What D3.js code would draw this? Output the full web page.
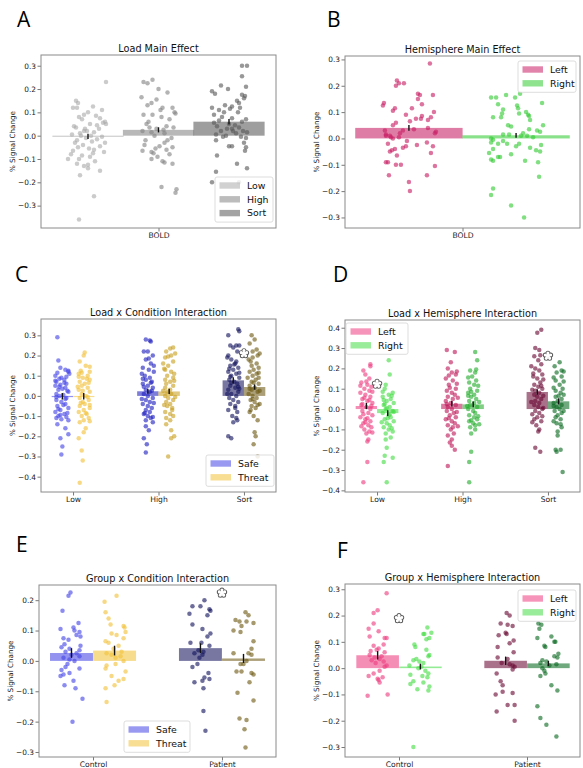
<!DOCTYPE html>
<html><head><meta charset="utf-8">
<script src="https://cdn.jsdelivr.net/npm/d3@7"></script>
<style>body{margin:0;background:#fff}</style>
</head><body>
<svg id="c" width="583" height="768"></svg>
<script>
// ---------------- DATA ----------------
// Panel A: Load main effect (one category, 3 hues)
const catsA = ["BOLD"], huesA = ["Low","High","Sort"];
const meanA = [[-0.003, 0.025, 0.060]];
const semA  = [[0.011, 0.011, 0.012]];
const ptsA_Low = [[1.8,.23],[-1.2,.15],[-1,.14],[-1.5,.12],[-1.1,.12],[.5,.125],[1.4,.11],[0,.1],[-.4,.09],[.8,.085],[-.9,.08],[1.2,.075],[-.6,.07],[1.7,.06],[1.5,.055],[.2,.05],[1.8,.05],[-1.4,.04],[-1.2,.035],[1.1,.03],[-.4,.02],[-.1,.02],[.6,.015],[-.8,.01],[-1.6,.005],[.3,0],[-.7,0],[1.4,-.005],[-.2,-.01],[.9,-.015],[-1.1,-.02],[.4,-.025],[1.7,-.03],[-.5,-.04],[1.2,-.045],[-1,-.05],[.1,-.055],[.6,-.06],[-1.5,-.065],[1.6,-.07],[-1.7,-.08],[-.6,-.085],[.2,-.09],[-2,-.1],[-.9,-.1],[.7,-.11],[-1.1,-.12],[0,-.125],[-.4,-.13],[0,-.14],[1.2,-.15],[-.8,-.17],[.6,-.26],[-.9,-.36],[-.3,.03],[.9,.045],[-1.3,-.03],[.5,-.075]];
const ptsA_High = [[-.6,.24],[-1.5,.23],[-1.1,.225],[0,.2],[.9,.185],[-1.7,.165],[-.2,.155],[-.7,.14],[-1.1,.13],[.4,.12],[1.4,.12],[1.6,.1],[-.6,.09],[.3,.08],[1.1,.07],[-1.2,.05],[.8,.04],[-.2,.03],[-1.6,.02],[-.7,.015],[.6,.01],[-.4,0],[1.3,-.01],[.9,-.02],[-1.4,-.04],[.1,-.045],[1.4,-.05],[.8,-.06],[-1.6,-.065],[-.7,-.07],[-.5,-.075],[1.1,-.08],[-.1,-.09],[-.7,-.1],[.4,-.11],[.6,-.115],[1.4,-.12],[.3,-.22],[1.8,-.23],[1.7,-.245],[-1,.06],[.2,.11],[1.7,.095],[-1.3,-.02],[.5,.025],[-.3,-.055],[1.5,.035],[-.9,.035],[.6,-.03],[-1.5,.09]];
const ptsA_Sort = [[1.3,.3],[1.8,.3],[1.3,.255],[-.8,.215],[1.7,.21],[-.1,.2],[-1.7,.19],[-1.4,.18],[1.3,.175],[1.6,.17],[1.5,.16],[.8,.15],[1,.14],[-.4,.13],[.3,.125],[-1.7,.12],[.1,.115],[-1,.11],[.9,.1],[-1.5,.09],[-.7,.08],[.3,.075],[1.7,.07],[1.3,.06],[-1.5,.055],[0,.05],[-1.2,.04],[1,.035],[.3,.03],[-.8,.02],[1.8,.015],[.7,.01],[-1.3,.005],[-.3,0],[1.2,-.005],[1.7,-.01],[-1.3,-.02],[1.5,-.03],[0,-.045],[.3,-.045],[1.7,-.05],[1.6,-.065],[-1.2,-.085],[.8,-.12],[1.8,-.14],[-1.3,-.155],[-1.7,-.2],[1,-.2],[-.5,.1],[.6,.045],[-1,.065],[.4,.02],[-.6,-.005],[1.1,.12],[-.2,.03],[1.4,.02]];

// Panel B: Hemisphere main effect
const catsB = ["BOLD"], huesB = ["Left","Right"];
const meanB = [[0.040, 0.012]];
const semB  = [[0.011, 0.009]];
const ptsB_Left = [[2.1,.285],[-1.2,.22],[-.5,.21],[-1,.21],[-1.3,.2],[.9,.17],[1.1,.165],[2.4,.165],[.9,.15],[-2.5,.135],[1.3,.13],[-2.6,.125],[-1.4,.115],[.3,.115],[-1.6,.105],[2.5,.1],[-.3,.09],[1.3,.085],[2.2,.08],[.7,.075],[1.2,.075],[1.9,.07],[.1,.065],[-1.3,.06],[-1.6,.05],[1.9,.04],[.5,.035],[-2.4,.03],[-.6,.03],[2.7,.025],[2.6,.02],[-.9,.02],[-2.3,.015],[-1.9,.01],[-2.3,.01],[-1,.005],[-1.8,.005],[-1.6,0],[-.2,-.01],[1.8,-.015],[-2.1,-.02],[.8,-.025],[-.3,-.03],[2.4,-.03],[-.6,-.035],[-1.4,-.04],[-1.7,-.045],[-1.9,-.05],[2.2,-.055],[-1.2,-.065],[-2.3,-.09],[-2.1,-.09],[-1.3,-.1],[-.8,-.1],[2.6,-.105],[-2,-.14],[1.8,-.14],[0,-.165],[.1,-.2]];
const ptsB_Right = [[.4,.17],[-1,.165],[-2.5,.155],[-2,.155],[-.1,.155],[2.6,.135],[-1.8,.13],[.1,.125],[.2,.115],[-1.3,.11],[1,.1],[-1.4,.095],[.3,.095],[1.2,.09],[1.3,.085],[-1.5,.08],[-2.3,.08],[1.4,.07],[2.7,.05],[-.8,.05],[-.5,.045],[1.3,.035],[2.1,.03],[2.4,.025],[.7,.02],[-.7,.015],[-1.3,.015],[.5,.01],[1.1,.01],[1.7,.005],[-2.5,0],[-2.3,-.005],[-1.3,-.01],[-2.5,-.015],[-1.8,-.02],[-.9,-.02],[.3,-.02],[2.5,-.025],[0,-.03],[1.4,-.035],[-2.3,-.04],[2,-.045],[2.4,-.05],[-2.7,-.055],[-.5,-.06],[-1.8,-.07],[-1.6,-.07],[-2.5,-.08],[-2.3,-.085],[.9,-.085],[2.2,-.09],[2.3,-.145],[-2.3,-.19],[-2.5,-.215],[-.5,-.255],[.8,-.3]];

// Panel C: Load x Condition
const catsC = ["Low","High","Sort"], huesC = ["Safe","Threat"];
const meanC = [[-0.002,-0.002],[0.023,0.022],[0.077,0.044]];
const semC  = [[0.016,0.016],[0.012,0.013],[0.016,0.013]];
const ptsC_LowSafe = [[-.5,.29],[-.4,.175],[-.2,.14],[.3,.13],[.6,.125],[-.7,.1],[.4,.095],[-.1,.09],[-.3,.085],[.2,.08],[-.6,.07],[.4,.06],[-.2,.055],[-.7,.05],[.3,.04],[-.4,.03],[.6,.02],[-.6,.01],[.1,.005],[-.3,0],[.4,-.01],[-.6,-.02],[-.1,-.03],[.3,-.04],[-.5,-.05],[.6,-.06],[-.2,-.07],[-.7,-.08],[.2,-.09],[-.4,-.1],[.4,-.105],[-.6,-.11],[-.1,-.115],[.6,-.12],[-.5,-.14],[.3,-.16],[.6,-.19],[-.2,-.21],[0,-.25],[-.1,-.29],[.6,.12],[-.5,.115],[.2,.065],[-.3,.045],[.5,.025],[-.6,-.005],[.1,-.045],[-.4,-.065],[.5,-.085],[-.2,-.095],[.7,.11],[0,.035],[-.7,.075],[.3,-.015]];
const ptsC_LowThreat = [[.1,.215],[0,.2],[-.4,.17],[.2,.15],[.6,.145],[.6,.12],[-.5,.11],[.4,.1],[-.1,.09],[.6,.08],[-.4,.07],[.1,.06],[-.2,.05],[.4,.04],[-.5,.03],[.6,.02],[-.2,.01],[.2,0],[-.4,-.01],[.5,-.02],[-.1,-.03],[.1,-.04],[-.4,-.05],[.6,-.06],[0,-.07],[-.5,-.08],[.3,-.09],[-.2,-.1],[.5,-.11],[0,-.12],[-.4,-.13],[.2,-.16],[0,-.18],[-.5,-.21],[-.2,-.27],[-.1,-.32],[-.4,-.43],[-.3,.125],[.3,.085],[-.6,.045],[.5,.065],[-.1,.025],[.4,-.005],[-.3,-.035],[.6,-.045],[-.5,.095],[.2,-.085],[-.2,.115],[.6,-.125]];
const ptsC_HighSafe = [[-.2,.28],[.2,.275],[.3,.27],[-.4,.22],[0,.22],[.5,.2],[-.2,.18],[.3,.16],[-.5,.14],[.1,.13],[.6,.12],[-.3,.1],[.2,.09],[-.2,.08],[.4,.07],[-.5,.06],[0,.05],[.5,.04],[-.2,.03],[.2,.02],[-.4,.01],[0,0],[.5,-.01],[-.2,-.02],[.2,-.03],[-.5,-.04],[0,-.05],[.4,-.06],[-.2,-.07],[.2,-.08],[-.4,-.09],[0,-.1],[.3,-.11],[-.2,-.12],[.5,-.13],[-.2,-.15],[.1,-.17],[-.4,-.21],[-.1,-.24],[-.2,-.28],[.6,.15],[-.6,.11],[.4,.025],[-.4,.045],[.6,-.035],[-.6,-.015],[.3,.065],[-.3,-.085],[.5,-.105],[-.5,.085],[.1,.185]];
const ptsC_HighThreat = [[.4,.24],[.1,.235],[-.3,.22],[.2,.2],[-.4,.19],[.4,.17],[-.1,.15],[-.4,.13],[.2,.12],[-.2,.1],[.4,.09],[-.4,.08],[.1,.07],[-.3,.06],[.4,.05],[-.4,.04],[.1,.03],[-.2,.02],[.2,.01],[-.4,0],[-.1,-.01],[.4,-.02],[-.3,-.03],[.1,-.04],[-.2,-.05],[.3,-.06],[-.4,-.08],[.1,-.09],[.4,-.1],[-.3,-.11],[.1,-.12],[-.3,-.14],[.2,-.17],[.5,-.2],[.2,-.21],[-.1,-.3],[.6,.21],[-.6,.16],[.5,.11],[-.6,.025],[.6,-.005],[-.5,-.045],[.5,.075],[-.1,.195],[.3,-.07],[-.5,.135]];
const ptsC_SortSafe = [[.5,.33],[.6,.32],[-.5,.3],[-.3,.25],[.3,.25],[0,.24],[.4,.22],[-.5,.2],[-.2,.18],[.2,.16],[-.3,.15],[.5,.14],[0,.13],[-.5,.12],[.3,.11],[-.2,.1],[.6,.09],[-.4,.08],[.1,.07],[.4,.06],[-.3,.05],[.2,.04],[-.5,.03],[.5,.02],[-.2,.01],[.3,0],[-.4,-.01],[0,-.02],[.5,-.03],[-.3,-.04],[.2,-.06],[-.5,-.07],[.4,-.08],[-.1,-.1],[.3,-.11],[.4,-.12],[0,-.13],[-.5,-.2],[-.2,-.21],[.6,.25],[-.6,.19],[.3,.17],[-.4,.135],[.6,.115],[-.2,.065],[.5,.045],[-.6,.01],[.2,-.05],[-.3,.095],[.1,.155],[.6,.035]];
const ptsC_SortThreat = [[-.3,.3],[0,.28],[-.5,.26],[.2,.23],[-.2,.22],[.3,.2],[-.2,.19],[-.6,.18],[.2,.16],[-.3,.15],[.4,.14],[-.1,.13],[-.5,.12],[.2,.11],[-.2,.1],[-.7,.09],[.1,.08],[-.3,.07],[.4,.06],[-.5,.05],[0,.04],[-.3,.03],[.3,.02],[-.6,.01],[-.2,0],[.2,-.01],[-.4,-.02],[0,-.03],[.5,-.04],[-.3,-.05],[.1,-.06],[-.5,-.08],[-.1,-.1],[.3,-.12],[0,-.18],[.1,-.2],[-.1,-.24],[.3,-.3],[.5,.21],[-.4,.17],[.4,.115],[-.1,.065],[.5,.025],[-.2,-.015],[.3,-.045],[-.5,.035],[.4,.09],[-.4,-.07]];

// Panel D: Load x Hemisphere
const catsD = ["Low","High","Sort"], huesD = ["Left","Right"];
const meanD = [[0.015,-0.020],[0.026,0.023],[0.084,0.038]];
const semD  = [[0.015,0.014],[0.014,0.014],[0.014,0.015]];
const ptsD_LowLeft = [[.4,.22],[.4,.21],[-.3,.19],[-.1,.17],[.3,.15],[-.5,.13],[.1,.12],[.5,.11],[-.2,.1],[.3,.09],[-.6,.08],[-.1,.07],[.4,.06],[-.4,.05],[.1,.04],[.6,.03],[-.5,.02],[0,.01],[.4,0],[-.4,-.01],[.2,-.02],[.6,-.03],[-.6,-.04],[-.1,-.05],[.4,-.06],[-.3,-.07],[.2,-.08],[.5,-.09],[-.2,-.1],[.3,-.11],[0,-.12],[.2,-.15],[.1,-.16],[.1,-.26],[-.3,-.36],[-.6,.115],[.6,.085],[-.2,.055],[.5,.015],[-.3,-.025],[.1,-.045],[-.5,-.085],[.6,-.115],[0,.135],[-.4,.025],[.3,.045],[-.1,-.065]];
const ptsD_LowRight = [[.1,.24],[.2,.17],[-.2,.12],[-.3,.1],[.5,.08],[.1,.07],[-.5,.06],[.3,.05],[-.1,.04],[.6,.03],[-.4,.02],[.2,.01],[-.2,0],[.5,-.01],[-.5,-.02],[.1,-.03],[.3,-.04],[-.3,-.05],[.6,-.06],[-.1,-.07],[.2,-.08],[-.4,-.09],[.1,-.1],[.5,-.11],[-.2,-.12],[.3,-.14],[-.2,-.15],[-.1,-.19],[-.3,-.23],[.5,-.24],[-.4,-.26],[-.1,-.36],[-.5,.085],[.4,.065],[-.3,.025],[.6,-.015],[0,-.045],[-.6,-.065],[.4,-.095],[-.4,.045],[.2,-.025],[-.1,.005]];
const ptsD_HighLeft = [[-.5,.29],[.3,.28],[-.1,.23],[-.4,.2],[0,.18],[.4,.17],[-.6,.15],[.1,.14],[-.3,.12],[.4,.1],[-.5,.09],[0,.08],[.3,.07],[-.4,.06],[.1,.05],[-.6,.04],[-.1,.03],[.4,.02],[-.4,.01],[0,0],[-.5,-.01],[.2,-.02],[-.2,-.03],[.4,-.04],[-.6,-.05],[0,-.06],[.3,-.07],[-.4,-.08],[.1,-.09],[-.1,-.1],[.2,-.12],[-.4,-.13],[0,-.15],[0,-.18],[.3,-.2],[-.4,-.28],[.5,.185],[-.3,.165],[.5,.125],[-.2,.105],[.6,.055],[-.5,.025],[.5,-.015],[-.3,-.045],[.6,-.085],[-.2,-.165]];
const ptsD_HighRight = [[.2,.28],[.4,.24],[-.3,.19],[.2,.18],[-.1,.16],[.3,.14],[-.4,.13],[.1,.12],[-.3,.1],[.4,.09],[-.5,.08],[.1,.07],[-.2,.06],[.3,.05],[-.4,.04],[.1,.03],[-.3,.02],[.4,.01],[-.5,0],[0,-.01],[.2,-.02],[-.4,-.03],[.1,-.04],[.4,-.05],[-.4,-.06],[0,-.07],[.2,-.08],[-.3,-.09],[.2,-.1],[-.2,-.12],[-.2,-.21],[-.4,-.26],[-.4,-.36],[-.5,.155],[.5,.115],[-.2,.085],[.6,.035],[-.6,.015],[.5,-.035],[-.2,-.055],[.6,-.075],[-.5,.065],[.3,.195]];
const ptsD_SortLeft = [[.4,.39],[0,.375],[-.2,.3],[.2,.29],[-.3,.26],[.1,.24],[.4,.22],[-.2,.2],[.2,.19],[.5,.17],[-.4,.16],[0,.15],[.3,.13],[-.3,.12],[.1,.11],[.5,.1],[-.2,.09],[.2,.08],[-.3,.07],[0,.06],[.4,.05],[-.2,.04],[.2,.03],[-.3,.02],[.1,.01],[.5,0],[-.2,-.01],[.2,-.02],[0,-.04],[-.3,-.05],[.4,-.06],[-.1,-.08],[.2,-.1],[.1,-.11],[-.2,-.19],[.3,-.21],[-.6,.21],[.6,.145],[-.5,.095],[.6,.065],[-.6,.035],[.6,.005],[-.5,-.025],[.5,-.035],[-.4,.175],[.3,.265],[-.5,-.065],[.4,.115]];
const ptsD_SortRight = [[.1,.23],[-.4,.21],[.3,.19],[-.2,.18],[.3,.16],[-.3,.14],[.1,.12],[.4,.1],[-.3,.09],[.2,.08],[-.3,.06],[.3,.05],[-.1,.04],[-.5,.03],[.3,.02],[-.2,.01],[.1,0],[-.4,-.01],[.3,-.02],[-.1,-.03],[-.3,-.04],[.2,-.05],[-.2,-.07],[.3,-.09],[-.1,-.11],[-.1,-.13],[-.3,-.2],[-.2,-.21],[.2,-.2],[.4,-.31],[.5,.185],[-.5,.155],[.5,.135],[-.5,.105],[.5,.07],[-.5,.015],[.5,-.01],[-.5,-.06],[0,.065],[.2,-.075]];

// Panel E: Group x Condition
const catsE = ["Control","Patient"], huesE = ["Safe","Threat"];
const meanE = [[0.026,0.034],[0.042,0.008]];
const semE  = [[0.016,0.016],[0.016,0.015]];
const ptsE_CtrlSafe = [[-.1,.225],[-.3,.215],[-.9,.165],[.7,.125],[.2,.11],[-1.1,.105],[.3,.1],[.8,.095],[.5,.085],[.9,.08],[-.8,.075],[-.3,.07],[-.7,.055],[.9,.05],[-1,.045],[-.2,.04],[.8,.035],[-.6,.03],[.5,.025],[0,.02],[.8,.015],[-.8,.01],[-.2,.005],[.3,0],[-.4,-.01],[-.6,-.02],[.8,-.025],[-1,-.03],[-.2,-.04],[-.8,-.045],[-1.1,-.05],[.2,-.065],[-.7,-.08],[.4,-.09],[1.1,-.125],[.1,-.2]];
const ptsE_CtrlThreat = [[.2,.215],[-1,.195],[-.9,.16],[-.6,.14],[-.4,.12],[.9,.115],[1,.11],[1.1,.095],[-.3,.09],[.2,.085],[.9,.075],[-.9,.065],[-.6,.06],[.4,.05],[-.1,.04],[.7,.03],[-.8,.025],[-.3,.02],[.6,.015],[.1,.01],[.9,0],[.1,-.01],[-.8,-.015],[-.9,-.025],[1.1,-.035],[-.3,-.05],[.9,-.06],[.4,-.065],[0,-.08],[-.9,-.09],[-.8,-.135]];
const ptsE_PatSafe = [[.4,.2],[-.8,.18],[0,.18],[.9,.17],[1,.165],[-1.1,.155],[.7,.15],[-.8,.12],[.2,.105],[1,.09],[.7,.08],[-1,.06],[.1,.06],[.9,.05],[-.2,.035],[.3,.03],[-.6,.025],[.2,.02],[-.1,.01],[-.3,-.01],[-.8,-.02],[.8,-.04],[.4,-.055],[.9,-.06],[.2,-.065],[-.6,-.07],[.3,-.09],[.3,-.165],[.5,-.23]];
const ptsE_PatThreat = [[.2,.16],[.5,.15],[-.8,.135],[-.4,.13],[.3,.13],[1,.125],[-.2,.115],[-1,.1],[-.3,.095],[1,.065],[.8,.04],[.5,.025],[-1,.025],[.8,.02],[.3,0],[-.3,-.01],[0,-.01],[-.7,-.035],[-.2,-.035],[.8,-.04],[1,-.045],[.6,-.07],[-.6,-.105],[1,-.13],[-.4,-.19],[.3,-.195],[.1,-.225],[.2,-.285]];

// Panel F: Group x Hemisphere
const catsF = ["Control","Patient"], huesF = ["Left","Right"];
const meanF = [[0.049,0.006],[0.028,0.018]];
const semF  = [[0.016,0.011],[0.016,0.010]];
const ptsF_CtrlLeft = [[.9,.285],[0,.22],[-.4,.21],[-.4,.17],[-.9,.15],[.1,.14],[-.8,.12],[.9,.115],[.7,.115],[.6,.09],[-.4,.085],[.1,.075],[-.1,.07],[-.7,.065],[.7,.06],[-.8,.05],[.4,.045],[-.3,.04],[.2,.035],[-.6,.03],[.6,.025],[-.2,.02],[.9,.01],[.7,.005],[.2,-.01],[-.4,-.02],[-.9,-.03],[.5,-.035],[0,-.04],[.1,-.045],[.2,-.055],[1,-.1],[-1,-.105]];
const ptsF_CtrlRight = [[.7,.155],[1.1,.135],[.3,.13],[.4,.13],[.9,.115],[.6,.11],[-.6,.09],[-.5,.08],[.6,.07],[.9,.05],[.8,.045],[-.4,.035],[-.7,.03],[-.1,.025],[.3,.02],[-1.1,.01],[.1,.005],[-.2,0],[.5,-.01],[.8,-.02],[-1,-.025],[.2,-.03],[.7,-.035],[-.7,-.05],[.3,-.055],[-1,-.06],[.9,-.07],[-.3,-.08],[.8,-.085],[-.7,-.3]];
const ptsF_PatLeft = [[.1,.21],[.4,.2],[-.5,.17],[.2,.165],[.7,.16],[0,.135],[.1,.13],[-.7,.125],[.8,.105],[.4,.095],[-.8,.08],[.8,.06],[-.8,.04],[.2,.035],[-.4,.02],[.4,.015],[.7,.01],[.9,.005],[.7,-.005],[-.9,-.02],[-.5,-.05],[-.3,-.065],[-.3,-.09],[.7,-.095],[-1,-.1],[.2,-.14],[.9,-.14],[-.9,-.165],[.9,-.2]];
const ptsF_PatRight = [[-1,.17],[-.7,.165],[-.9,.15],[.3,.12],[-1.1,.115],[.6,.1],[.7,.1],[-.4,.085],[-.3,.08],[1,.055],[.6,.045],[.9,.04],[-.6,.03],[-.2,.025],[-.8,.02],[.8,.015],[.1,.01],[-.6,0],[-.4,-.01],[-.3,-.02],[-.8,-.03],[.3,-.065],[.9,-.085],[-1.1,-.145],[-.8,-.19],[-.2,-.215],[.8,-.26]];

// significance markers [category index, value]
const starsC = [[2, 0.21]];
const starsD = [[0, 0.123],[2, 0.261]];
const starsE = [[1, 0.224]];
const starsF = [[0, 0.189]];

const tickA = [-0.3,-0.2,-0.1,0,0.1,0.2,0.3];
const tickB = [-0.3,-0.2,-0.1,0,0.1,0.2,0.3];
const tickC = [-0.4,-0.3,-0.2,-0.1,0,0.1,0.2,0.3];
const tickD = [-0.4,-0.3,-0.2,-0.1,0,0.1,0.2,0.3,0.4];
const tickE = [-0.3,-0.2,-0.1,0,0.1,0.2];
const tickF = [-0.3,-0.2,-0.1,0,0.1,0.2,0.3];

// ---------------- LAYOUT / STYLE ----------------
const blueS=["#4646e6","#2020c0","#14145e"], goldT=["#f2c23a","#c9a020","#6e5a14"];
const pinkL=["#ee3d80","#bf1a5a","#6a0a36"], greenR=["#45dd45","#25ad2d","#0b6b22"];
const panels = [
 {letter:"A", lx:17, ly:27, title:"Load Main Effect", x0:41,x1:276,y0:55,y1:228, yDom:[-0.396,0.346], xDom:[-0.5,0.5],
  hueOff:[-0.3,0,0.3], barW:0.303, cats:catsA, hues:huesA, means:meanA, sems:semA, pts:[[ptsA_Low,ptsA_High,ptsA_Sort]],
  colors:[["#ababab","#858585","#585858"]], ticks:tickA, ylabX:14.5, leg:{x:215,y:177,w:58}, stars:[]},
 {letter:"B", lx:327, ly:27, title:"Hemisphere Main Effect", x0:345,x1:580,y0:56,y1:228, yDom:[-0.340,0.313], xDom:[-0.5,0.5],
  hueOff:[-0.228,0.228], barW:0.457, cats:catsB, hues:huesB, means:meanB, sems:semB, pts:[[ptsB_Left,ptsB_Right]],
  colors:[["#c81e64","#33cc33"]], ticks:tickB, ylabX:319, leg:{x:518,y:61,w:58}, stars:[]},
 {letter:"C", lx:15, ly:282, title:"Load x Condition Interaction", x0:41,x1:276,y0:319,y1:492, yDom:[-0.476,0.381], xDom:[-0.375,2.375],
  hueOff:[-0.125,0.125], barW:0.25, cats:catsC, hues:huesC, means:meanC, sems:semC,
  pts:[[ptsC_LowSafe,ptsC_LowThreat],[ptsC_HighSafe,ptsC_HighThreat],[ptsC_SortSafe,ptsC_SortThreat]],
  colors:[[blueS[0],goldT[0]],[blueS[1],goldT[1]],[blueS[2],goldT[2]]], ticks:tickC, ylabX:14.5, leg:{x:206,y:455,w:68}, stars:starsC},
 {letter:"D", lx:333, ly:282, title:"Load x Hemisphere Interaction", x0:345,x1:580,y0:320,y1:492, yDom:[-0.408,0.438], xDom:[-0.375,2.375],
  hueOff:[-0.125,0.125], barW:0.25, cats:catsD, hues:huesD, means:meanD, sems:semD,
  pts:[[ptsD_LowLeft,ptsD_LowRight],[ptsD_HighLeft,ptsD_HighRight],[ptsD_SortLeft,ptsD_SortRight]],
  colors:[[pinkL[0],greenR[0]],[pinkL[1],greenR[1]],[pinkL[2],greenR[2]]], ticks:tickD, ylabX:319, leg:{x:346,y:323,w:62}, stars:starsD},
 {letter:"E", lx:16, ly:552, title:"Group x Condition Interaction", x0:39,x1:276,y0:585,y1:757, yDom:[-0.3165,0.25], xDom:[-0.419,1.419],
  hueOff:[-0.167,0.167], barW:0.333, cats:catsE, hues:huesE, means:meanE, sems:semE,
  pts:[[ptsE_CtrlSafe,ptsE_CtrlThreat],[ptsE_PatSafe,ptsE_PatThreat]],
  colors:[[blueS[0],goldT[0]],[blueS[2],goldT[2]]], ticks:tickE, ylabX:12.5, leg:{x:124,y:721,w:66}, stars:starsE},
 {letter:"F", lx:337, ly:558, title:"Group x Hemisphere Interaction", x0:345,x1:580,y0:584,y1:757, yDom:[-0.338,0.320], xDom:[-0.422,1.414],
  hueOff:[-0.167,0.167], barW:0.333, cats:catsF, hues:huesF, means:meanF, sems:semF,
  pts:[[ptsF_CtrlLeft,ptsF_CtrlRight],[ptsF_PatLeft,ptsF_PatRight]],
  colors:[[pinkL[0],greenR[0]],[pinkL[2],greenR[2]]], ticks:tickF, ylabX:319, leg:{x:518,y:590,w:58}, stars:starsF}
];

const svg = d3.select("#c");
const FONT = "DejaVu Sans";

function flower(g, cx, cy) {
  const r = 1.95, d = 2.85;
  const pet = d3.range(5).map(i => { const a = (-90 + i*72) * Math.PI/180; return [cx + d*Math.cos(a), cy + d*Math.sin(a)]; });
  g.selectAll(null).data(pet).join("circle").attr("cx", p=>p[0]).attr("cy", p=>p[1]).attr("r", r)
    .attr("fill","#fff").attr("stroke","#5e5e5e").attr("stroke-width",1.1);
  g.selectAll(null).data(pet).join("circle").attr("cx", p=>p[0]).attr("cy", p=>p[1]).attr("r", r-0.55).attr("fill","#fff");
  g.append("circle").attr("cx",cx).attr("cy",cy).attr("r",d*0.75).attr("fill","#fff");
}

function drawPanel(P) {
  const g = svg.append("g");
  const x = d3.scaleLinear().domain(P.xDom).range([P.x0, P.x1]);
  const y = d3.scaleLinear().domain(P.yDom).range([P.y1, P.y0]);
  const jitU = (P.xDom[1]-P.xDom[0])/(P.x1-P.x0)*10;

  // bars
  P.cats.forEach((c,ci)=>P.hues.forEach((h,hi)=>{
    const cx = ci + P.hueOff[hi], m = P.means[ci][hi];
    const yz = y(0), ym = y(m);
    g.append("rect").attr("x", x(cx-P.barW/2)).attr("width", x(cx+P.barW/2)-x(cx-P.barW/2))
      .attr("y", Math.min(yz,ym)).attr("height", Math.max(1.2, Math.abs(ym-yz)))
      .attr("fill", P.colors[ci][hi]).attr("fill-opacity", 0.58);
  }));
  // points
  P.cats.forEach((c,ci)=>P.hues.forEach((h,hi)=>{
    const cx = ci + P.hueOff[hi];
    g.append("g").selectAll("circle").data(P.pts[ci][hi]).join("circle")
      .attr("cx", d=>x(cx + d[0]*jitU)).attr("cy", d=>y(d[1])).attr("r", 2.25)
      .attr("fill", P.colors[ci][hi]).attr("fill-opacity", 0.62);
  }));
  // error bars
  P.cats.forEach((c,ci)=>P.hues.forEach((h,hi)=>{
    const cx = ci + P.hueOff[hi], m = P.means[ci][hi], s = P.sems[ci][hi];
    g.append("line").attr("x1", x(cx)).attr("x2", x(cx)).attr("y1", y(m-s)).attr("y2", y(m+s))
      .attr("stroke","#111").attr("stroke-width",1.4);
  }));
  // stars
  P.stars.forEach(s => flower(g.append("g"), x(s[0]), y(s[1])));

  // axes
  const ya = d3.axisLeft(y).tickValues(P.ticks).tickSize(3.5).tickPadding(1.5).tickFormat(d3.format(".1f"));
  const yg = g.append("g").attr("transform",`translate(${P.x0},0)`).call(ya)
    .attr("font-size",7.4).attr("font-family",FONT);
  yg.select(".domain").remove();
  yg.selectAll("text").attr("fill","#1a1a1a");
  yg.selectAll("line").attr("stroke","#555").attr("stroke-width",0.8);
  const xa = d3.axisBottom(x).tickValues(P.cats.map((c,i)=>i)).tickFormat(i=>P.cats[i]).tickSize(3.5).tickPadding(1.5);
  const xg = g.append("g").attr("transform",`translate(0,${P.y1})`).call(xa)
    .attr("font-size",7.6).attr("font-family",FONT);
  xg.select(".domain").remove();
  xg.selectAll("text").attr("fill","#1a1a1a");
  xg.selectAll("line").attr("stroke","#555").attr("stroke-width",0.8);

  // frame
  g.append("rect").attr("x",P.x0).attr("y",P.y0).attr("width",P.x1-P.x0).attr("height",P.y1-P.y0)
    .attr("fill","none").attr("stroke","#8a8a8a").attr("stroke-width",1);

  // title, y label, panel letter
  g.append("text").attr("x",(P.x0+P.x1)/2).attr("y",P.y0-3.5).attr("text-anchor","middle")
    .attr("font-family",FONT).attr("font-size",9.7).attr("fill","#111").text(P.title);
  g.append("text").attr("transform",`translate(${P.ylabX},${(P.y0+P.y1)/2}) rotate(-90)`).attr("text-anchor","middle")
    .attr("font-family",FONT).attr("font-size",7.2).attr("fill","#222").text("% Signal Change");
  g.append("text").attr("x",P.lx).attr("y",P.ly).attr("font-family","Open Sans").attr("font-size",21)
    .attr("fill","#000").text(P.letter);

  // legend
  const L = P.leg, n = P.hues.length, rowH = 13.8;
  const lg = g.append("g");
  lg.append("rect").attr("x",L.x).attr("y",L.y).attr("width",L.w).attr("height",8.5 + (n-1)*rowH + 9)
    .attr("rx",2).attr("fill","#fff").attr("fill-opacity",0.85).attr("stroke","#d4d4d4").attr("stroke-width",0.8);
  P.hues.forEach((h,i)=>{
    const ry = L.y + 8.5 + i*rowH;
    lg.append("rect").attr("x",L.x+4.5).attr("y",ry-3.2).attr("width",20.5).attr("height",6.4)
      .attr("fill",P.colors[0][i]).attr("fill-opacity",0.55);
    lg.append("text").attr("x",L.x+32).attr("y",ry+3.3).attr("font-family",FONT).attr("font-size",9.4)
      .attr("fill","#111").text(h);
  });
}
panels.forEach(drawPanel);
</script>
</body></html>
